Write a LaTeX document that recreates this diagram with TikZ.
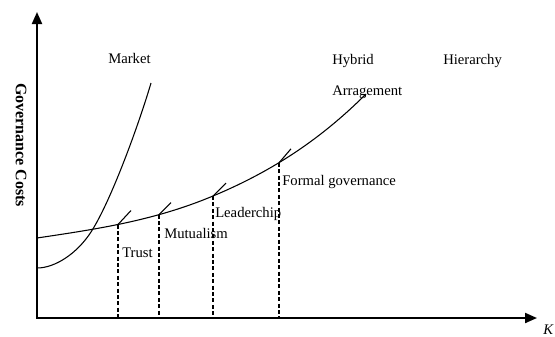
\documentclass[tikz,border=0pt]{standalone}
\usepackage{fontspec}
\setmainfont{Liberation Serif}
\usetikzlibrary{arrows.meta}

\begin{document}
\begin{tikzpicture}[x=0.75pt,y=0.75pt,yscale=-1,xscale=1,
  axis/.style={line width=1.5pt,{Triangle[length=9pt,width=7.5pt]}-{Triangle[length=9pt,width=7.5pt]}},
  curve/.style={line width=0.8pt},
  guide/.style={line width=1.3pt,dash pattern={on 3pt off 1.8pt}},
  lbl/.style={anchor=base west,inner sep=0pt,font=\fontsize{11}{13}\selectfont}]
\useasboundingbox (0,0) rectangle (555,336);

%Coordinates
\coordinate (ytip) at (37,12);
\coordinate (o) at (37,318);
\coordinate (xtip) at (537,318);
\coordinate (pTrust) at (118,224.5);
\coordinate (pMutual) at (159,214.6);
\coordinate (pLeader) at (213,196);
\coordinate (pFormal) at (279,162.8);

%Straight Lines (axes)
\draw [axis] (ytip) -- (o) -- (xtip) ;

%Curve Lines (hybrid arrangement)
\draw [curve] (37,238) .. controls (96,229.2) and (154,220.8) .. (pLeader) .. controls (264,174.6) and (315,145) .. (366,94) ;
%Curve Lines (market)
\draw [curve] (37,268) .. controls (55,268) and (77,253.6) .. (91,232) .. controls (111,201.2) and (139,123.8) .. (151,83) ;

%Straight Lines (ticks)
\draw [curve] (pTrust) -- ++(13,-14) ;
\draw [curve] (pMutual) -- ++(12,-12) ;
\draw [curve] (pLeader) -- ++(13,-13) ;
\draw [curve] (pFormal) -- ++(12,-14) ;

% Text Node
\draw (108,63) node [lbl] (market) {Market};
% Text Node
\draw (332,64) node [lbl] (hybrid) {Hybrid};
% Text Node
\draw (332,95) node [lbl] (arrange) {Arragement};
% Text Node
\draw (443,64) node [lbl] (hierarchy) {Hierarchy};
% Text Node
\draw (282,185) node [lbl] (formal) {Formal governance};
% Text Node
\draw (215,217) node [lbl] (leader) {Leaderchip};
% Text Node
\draw (164,238) node [lbl] (mutual) {Mutualism};
% Text Node
\draw (122,257) node [lbl] (trust) {Trust};
% Text Node
\draw (21,145) node [rotate=-90,inner sep=0pt,font=\bfseries\fontsize{12}{14}\selectfont] (costs) {Governance Costs};
% Text Node
\draw (543,334) node [lbl,font=\itshape\fontsize{11}{13}\selectfont] (k) {K};

%Straight Lines (dashed)
\draw [guide] (pTrust) -- (pTrust |- o) ;
\draw [guide] (pMutual) -- (pMutual |- o) ;
\draw [guide] (pLeader) -- (pLeader |- o) ;
\draw [guide] (pFormal) -- (pFormal |- o) ;

\end{tikzpicture}
\end{document}
